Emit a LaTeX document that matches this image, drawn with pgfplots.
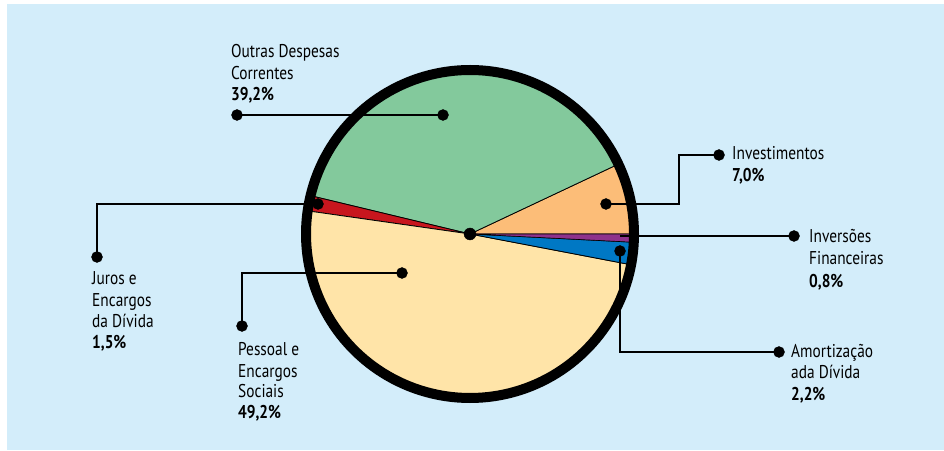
\documentclass[border=0pt]{standalone}
\usepackage{fontspec}
\setmainfont{PT Sans}[FakeStretch=0.83]
\usepackage{pgfplots}
\pgfplotsset{compat=1.18}
\usepackage{pgfplotstable}
\definecolor{bgblue}{RGB}{211,237,250}
\definecolor{cgreen}{RGB}{131,201,156}
\definecolor{corange}{RGB}{252,189,120}
\definecolor{cred}{RGB}{200,22,30}
\definecolor{cyellow}{RGB}{255,228,168}
\definecolor{cblue}{RGB}{0,120,196}
\definecolor{cpurple}{RGB}{142,50,140}
% shares in percent, counter-clockwise from 0 degrees
\def\pInv{7.0}
\def\pOut{39.2}
\def\pJur{1.5}
\def\pPes{49.2}
\def\pAmo{2.2}
\def\pIfi{0.8}
\pgfmathsetmacro\tot{\pInv+\pOut+\pJur+\pPes+\pAmo+\pIfi}
\pgfmathsetmacro\aA{\pInv/\tot*360}
\pgfmathsetmacro\aB{\aA+\pOut/\tot*360}
\pgfmathsetmacro\aC{\aB+\pJur/\tot*360}
\pgfmathsetmacro\aD{\aC+\pPes/\tot*360}
\pgfmathsetmacro\aE{\aD+\pAmo/\tot*360}
\pgfmathsetmacro\aF{\aE+\pIfi/\tot*360}
\def\cx{470}\def\cy{216}\def\rr{164}
\newcommand\lbl[3]{\node[anchor=base west,inner sep=0pt,font=\fontsize{18.5}{21.5}\selectfont] at (axis cs:#1,#2) {#3};}
\begin{document}
\begin{tikzpicture}
\begin{axis}[width=944pt,height=450pt,scale only axis,
  xmin=0,xmax=944,ymin=0,ymax=450,hide axis,clip=false]
\fill[white] (axis cs:0,0) rectangle (axis cs:944,450);
\fill[bgblue] (axis cs:7,0) rectangle (axis cs:944,446);
% slices
\addplot[fill=corange,draw=black,line width=0.8pt,domain=0:\aA,samples=30] ({\cx+\rr*cos(x)},{\cy+\rr*sin(x)}) -- (axis cs:\cx,\cy) -- cycle;
\addplot[fill=cgreen,draw=black,line width=0.8pt,domain=\aA:\aB,samples=80] ({\cx+\rr*cos(x)},{\cy+\rr*sin(x)}) -- (axis cs:\cx,\cy) -- cycle;
\addplot[fill=cred,draw=black,line width=0.8pt,domain=\aB:\aC,samples=10] ({\cx+\rr*cos(x)},{\cy+\rr*sin(x)}) -- (axis cs:\cx,\cy) -- cycle;
\addplot[fill=cyellow,draw=black,line width=0.8pt,domain=\aC:\aD,samples=90] ({\cx+\rr*cos(x)},{\cy+\rr*sin(x)}) -- (axis cs:\cx,\cy) -- cycle;
\addplot[fill=cblue,draw=black,line width=0.8pt,domain=\aD:\aE,samples=10] ({\cx+\rr*cos(x)},{\cy+\rr*sin(x)}) -- (axis cs:\cx,\cy) -- cycle;
\addplot[fill=cpurple,draw=black,line width=0.6pt,domain=\aE:\aF,samples=6] ({\cx+\rr*cos(x)},{\cy+\rr*sin(x)}) -- (axis cs:\cx,\cy) -- cycle;
% border
\addplot[draw=black,line width=10pt,domain=0:360,samples=181] ({\cx+\rr*cos(x)},{\cy+\rr*sin(x)});
% leader lines
\addplot[black,line width=2.4pt] coordinates {(237,335) (443,335)};
\addplot[black,line width=2.4pt] coordinates {(606,246) (679,246) (679,295) (719,295)};
\addplot[black,line width=2.4pt] coordinates {(620,214) (794,214)};
\addplot[black,line width=2.4pt] coordinates {(620,199) (620,98) (779,98)};
\addplot[black,line width=2.4pt] coordinates {(402,177) (242,177) (242,124)};
\addplot[black,line width=2.4pt] coordinates {(318,246) (97,246) (97,193)};
% dots
\addplot[only marks,mark=*,mark size=5.5pt,black] coordinates {(237,335) (443,335) (606,246) (719,295) (794,214) (620,199) (779,98) (402,177) (242,124) (318,246) (97,193)};
\addplot[only marks,mark=*,mark size=6pt,black] coordinates {(\cx,\cy)};
% labels
\lbl{231}{392}{Outras Despesas}
\lbl{231}{370}{Correntes}
\lbl{231}{349}{\bfseries 39,2\%}
\lbl{732}{290}{Investimentos}
\lbl{732}{268}{\bfseries 7,0\%}
\lbl{809}{207}{Inversões}
\lbl{809}{185}{Financeiras}
\lbl{809}{163}{\bfseries 0,8\%}
\lbl{791}{93}{Amortização}
\lbl{791}{72}{ada Dívida}
\lbl{791}{50}{\bfseries 2,2\%}
\lbl{238}{95}{Pessoal e}
\lbl{238}{73}{Encargos}
\lbl{238}{53}{Sociais}
\lbl{238}{32}{\bfseries 49,2\%}
\lbl{92}{165}{Juros e}
\lbl{92}{144}{Encargos}
\lbl{92}{123}{da Dívida}
\lbl{92}{102}{\bfseries 1,5\%}
\end{axis}
\end{tikzpicture}
\end{document}
